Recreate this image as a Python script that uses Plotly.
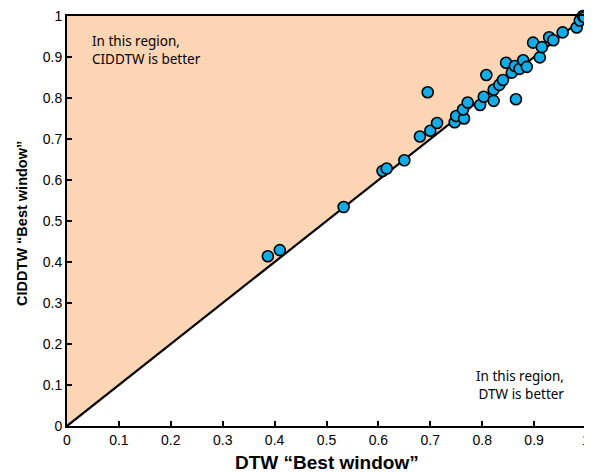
import plotly.graph_objects as go

# Data
dtw_best = [0.387, 0.410, 0.533, 0.608, 0.616, 0.650, 0.680, 0.695, 0.700, 0.713,
            0.747, 0.750, 0.765, 0.763, 0.772, 0.796, 0.803, 0.808, 0.822, 0.822,
            0.833, 0.840, 0.846, 0.857, 0.863, 0.865, 0.872, 0.879, 0.886, 0.898,
            0.911, 0.915, 0.929, 0.937, 0.955, 0.982, 0.988, 0.994, 0.997]
cid_best = [0.414, 0.429, 0.534, 0.622, 0.628, 0.648, 0.706, 0.814, 0.720, 0.739,
            0.741, 0.756, 0.750, 0.772, 0.789, 0.783, 0.803, 0.856, 0.793, 0.820,
            0.832, 0.844, 0.886, 0.862, 0.878, 0.797, 0.871, 0.892, 0.876, 0.935,
            0.899, 0.924, 0.948, 0.941, 0.960, 0.972, 0.989, 1.000, 0.997]

region_x = [0, 0, 1, 0]
region_y = [0, 1, 1, 0]
diag_x = [0, 1]
diag_y = [0, 1]
ticks = [0, 0.1, 0.2, 0.3, 0.4, 0.5, 0.6, 0.7, 0.8, 0.9, 1]
tick_text = ["0", "0.1", "0.2", "0.3", "0.4", "0.5", "0.6", "0.7", "0.8", "0.9", "1"]

fig = go.Figure()
fig.add_trace(go.Scatter(x=region_x, y=region_y, mode="lines", fill="toself",
                         fillcolor="#FCD5B5", line=dict(width=0), hoverinfo="skip",
                         showlegend=False))
fig.add_trace(go.Scatter(x=diag_x, y=diag_y, mode="lines",
                         line=dict(color="black", width=2.2), showlegend=False))
fig.add_trace(go.Scatter(x=dtw_best, y=cid_best, mode="markers",
                         marker=dict(size=11, color="#12ACE6",
                                     line=dict(color="black", width=1.6)),
                         cliponaxis=False, showlegend=False))

axis_common = dict(range=[0, 1], tickvals=ticks, ticktext=tick_text,
                   ticks="inside", ticklen=5, tickwidth=1.5, tickcolor="black",
                   showline=True, linecolor="black", linewidth=2, mirror=True,
                   showgrid=False, zeroline=False, automargin=False,
                   ticklabeloverflow="allow",
                   tickfont=dict(family="Liberation Sans, Arial", size=14, color="black"))

# The page body adds an 8px offset, so the figure is sized to fit the 592x473 window.
fig.update_layout(
    width=584, height=465,
    margin=dict(l=58.5, r=6, t=8, b=47),
    plot_bgcolor="white", paper_bgcolor="white",
    xaxis=dict(**axis_common),
    yaxis=dict(**axis_common),
    annotations=[
        dict(x=0.5, y=-0.088, xref="paper", yref="paper", xanchor="center", yanchor="middle",
             text="DTW \u201cBest window\u201d", showarrow=False,
             font=dict(family="Liberation Sans, Arial", size=19, color="black", weight="bold")),
        dict(x=-0.087, y=0.495, xref="paper", yref="paper", xanchor="center", yanchor="middle",
             text="CIDDTW \u201cBest window\u201d", showarrow=False, textangle=-90,
             font=dict(family="Liberation Sans, Arial", size=14.5, color="black", weight="bold")),
        dict(x=0.045, y=0.966, xref="x", yref="y", xanchor="left", yanchor="top",
             text="In this region,<br>CIDDTW is better", showarrow=False, align="left",
             font=dict(family="Noto Sans", size=13.5, color="black")),
        dict(x=0.962, y=0.150, xref="x", yref="y", xanchor="right", yanchor="top",
             text="In this region,<br>DTW is better", showarrow=False, align="right",
             font=dict(family="Noto Sans", size=13.5, color="black")),
    ],
)

fig.write_html("out.html")
